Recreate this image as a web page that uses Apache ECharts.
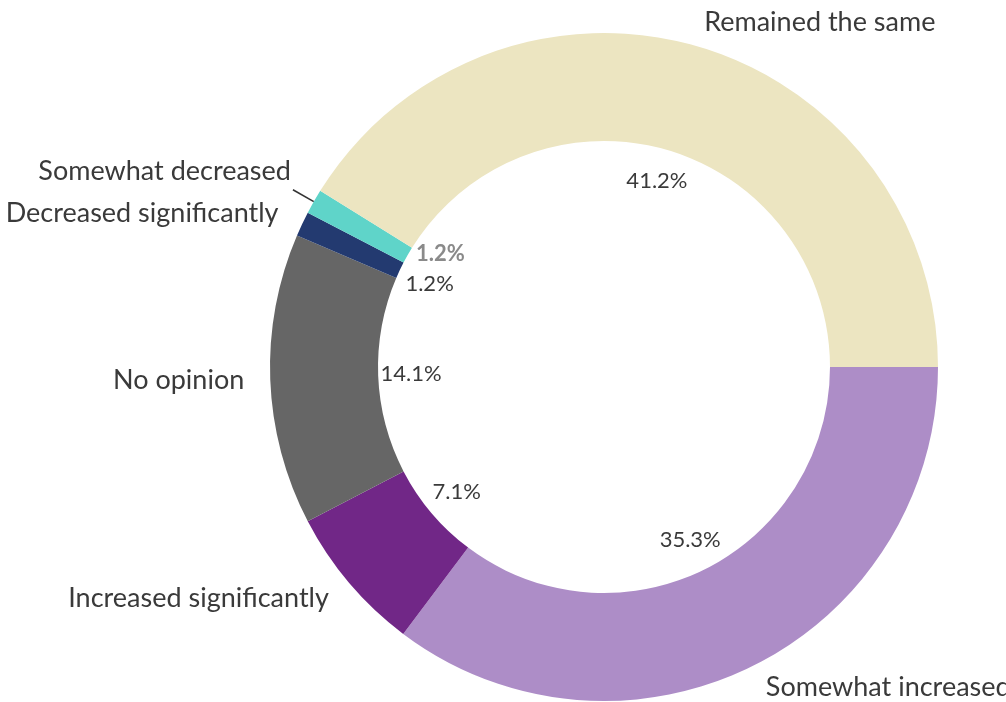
<!DOCTYPE html>
<html>
<head>
<meta charset="utf-8">
<script src="https://cdn.jsdelivr.net/npm/echarts@6/dist/echarts.min.js"></script>
<style>
  html, body { margin: 0; padding: 0; background: #ffffff; }
  #chart { width: 1006px; height: 702px; }
</style>
</head>
<body>
<div id="chart"></div>
<script>
// Survey answers, listed clockwise from the 3 o'clock position
const categories = [
  'Somewhat increased',
  'Increased significantly',
  'No opinion',
  'Decreased significantly',
  'Somewhat decreased',
  'Remained the same'
];
const shares = [35.3, 7.1, 14.1, 1.2, 1.2, 41.2];
const sliceColors = ['#ad8dc7', '#712787', '#666666', '#233a70', '#5fd4c9', '#ece5c1'];

const FONT = 'Lato';
const TEXT = '#3a3a3a';
// the two thin slices sit next to each other, so one name label is lifted
const LIFTED = 'Somewhat decreased';

const ringData = categories.map((name, i) => {
  const item = { name, value: shares[i], itemStyle: { color: sliceColors[i] } };
  if (name === LIFTED) {
    item.labelLine = { show: true };
  }
  return item;
});

const valueData = categories.map((name, i) => {
  const item = { name, value: shares[i] };
  if (name === LIFTED) {
    item.label = { fontWeight: 'bold', color: '#8a8a8a', offset: [4, -18] };
  }
  return item;
});

const chart = echarts.init(document.getElementById('chart'));
chart.setOption({
  animation: false,
  backgroundColor: '#ffffff',
  series: [
    {
      type: 'pie',
      center: [604, 367],
      radius: [226, 334],
      startAngle: 0,
      clockwise: true,
      avoidLabelOverlap: false,
      data: ringData,
      label: {
        show: true,
        position: 'outside',
        formatter: '{b}',
        fontFamily: FONT,
        fontSize: 27,
        color: TEXT,
        overflow: 'none',
        distanceToLabelLine: 2
      },
      labelLine: {
        show: false,
        length: 24,
        length2: 0,
        smooth: false,
        lineStyle: { color: '#333333', width: 1.6 }
      },
      labelLayout: params =>
        categories[params.dataIndex] === LIFTED ? { dx: 0, dy: -18 } : {},
      emphasis: { disabled: true }
    },
    {
      type: 'pie',
      center: [604, 367],
      radius: [180, 200],
      startAngle: 0,
      clockwise: true,
      silent: true,
      data: valueData,
      itemStyle: { color: 'rgba(0,0,0,0)' },
      label: {
        show: true,
        position: 'inside',
        formatter: p => p.value.toFixed(1) + '%',
        fontFamily: FONT,
        fontSize: 22,
        color: TEXT
      },
      labelLine: { show: false }
    }
  ]
});
</script>
</body>
</html>
